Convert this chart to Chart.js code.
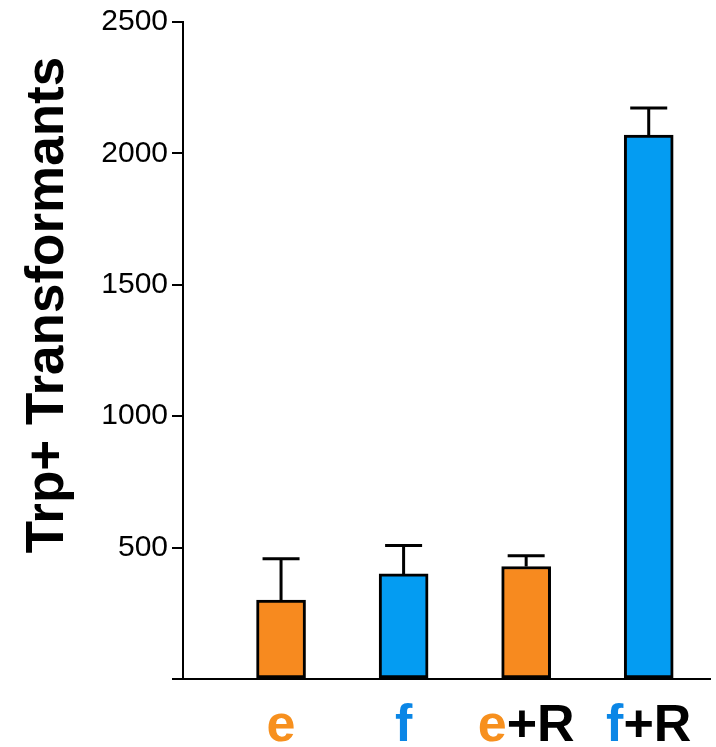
<!DOCTYPE html>
<html>
<head>
<meta charset="utf-8">
<script src="https://cdn.jsdelivr.net/npm/chart.js@4/dist/chart.umd.min.js"></script>
<style>
html,body{margin:0;padding:0;background:#fff;}
#wrap{width:716px;height:747px;position:relative;}
</style>
</head>
<body>
<div id="wrap"><canvas id="c" width="716" height="747"></canvas></div>
<script>
// ---- data ----
const categories = ['e', 'f', 'e+R', 'f+R'];
const values = [300, 400, 428, 2070];
const errors = [158, 108, 41, 103];
const yTicks = [0, 500, 1000, 1500, 2000, 2500];
const yTitle = 'Trp+ Transformants';

// ---- styles ----
const ORANGE = '#F78A1F';
const BLUE = '#049CF2';
const LABEL_ORANGE = '#F7901E';
const LABEL_BLUE = '#0A86E6';
const FONT = '"Liberation Sans", Arial, Helvetica, sans-serif';
const isE = c => c.charAt(0) === 'e';

const points = categories.map((c, i) => ({x: i + 1, y: values[i]}));

const errorBars = {
  id: 'errorBars',
  afterDatasetsDraw(chart) {
    const {ctx, scales: {x, y}} = chart;
    ctx.save();
    ctx.strokeStyle = '#000';
    ctx.lineWidth = 3;
    ctx.lineCap = 'butt';
    categories.forEach((c, i) => {
      const px = x.getPixelForValue(i + 1);
      const top = y.getPixelForValue(values[i] + errors[i]);
      const base = y.getPixelForValue(values[i]);
      ctx.beginPath();
      ctx.moveTo(px, top);
      ctx.lineTo(px, base);
      ctx.moveTo(px - 18.5, top);
      ctx.lineTo(px + 18.5, top);
      ctx.stroke();
    });
    ctx.restore();
  }
};

const labelsAndTitle = {
  id: 'labelsAndTitle',
  afterDraw(chart) {
    const {ctx, scales: {x, y}, chartArea} = chart;
    ctx.save();
    ctx.font = 'bold 52px ' + FONT;
    ctx.textBaseline = 'alphabetic';
    ctx.textAlign = 'left';
    categories.forEach((c, i) => {
      const px = x.getPixelForValue(i + 1);
      const head = c.charAt(0);
      const tail = c.slice(1);
      const w = ctx.measureText(c).width;
      const wh = ctx.measureText(head).width;
      const sx = px - w / 2;
      ctx.fillStyle = isE(c) ? LABEL_ORANGE : LABEL_BLUE;
      ctx.fillText(head, sx, chartArea.bottom + 62);
      ctx.fillStyle = '#000';
      ctx.fillText(tail, sx + wh, chartArea.bottom + 62);
    });
    ctx.translate(63, 305);
    ctx.rotate(-Math.PI / 2);
    ctx.font = 'bold 53px ' + FONT;
    ctx.textAlign = 'center';
    ctx.fillStyle = '#000';
    ctx.fillText(yTitle, 0, 0);
    ctx.restore();
  }
};

new Chart(document.getElementById('c'), {
  type: 'bar',
  data: {
    datasets: [{
      data: points,
      backgroundColor: categories.map(c => isE(c) ? ORANGE : BLUE),
      borderColor: '#000',
      borderWidth: 3,
      borderSkipped: false,
      barThickness: 49
    }]
  },
  options: {
    responsive: false,
    animation: false,
    layout: {padding: {left: 0, top: 20, right: 6, bottom: 0}},
    plugins: {legend: {display: false}, tooltip: {enabled: false}},
    scales: {
      x: {
        type: 'linear',
        min: 0.2,
        max: 4.5,
        offset: false,
        grid: {display: false, offset: false, drawOnChartArea: false, drawTicks: false},
        border: {display: true, color: '#000', width: 2},
        ticks: {display: false},
        afterFit(s) { s.height = 68; }
      },
      y: {
        min: 0,
        max: 2500,
        afterBuildTicks(s) { s.ticks = yTicks.map(v => ({value: v})); },
        ticks: {
          color: '#000',
          padding: 4,
          font: {family: FONT, size: 30},
          callback: v => v === 0 ? '' : String(v)
        },
        grid: {drawOnChartArea: false, drawTicks: true, tickLength: 11, color: '#000', lineWidth: 2},
        border: {display: true, color: '#000', width: 2},
        afterFit(s) { s.width = 183; }
      }
    }
  },
  plugins: [errorBars, labelsAndTitle]
});
</script>
</body>
</html>
